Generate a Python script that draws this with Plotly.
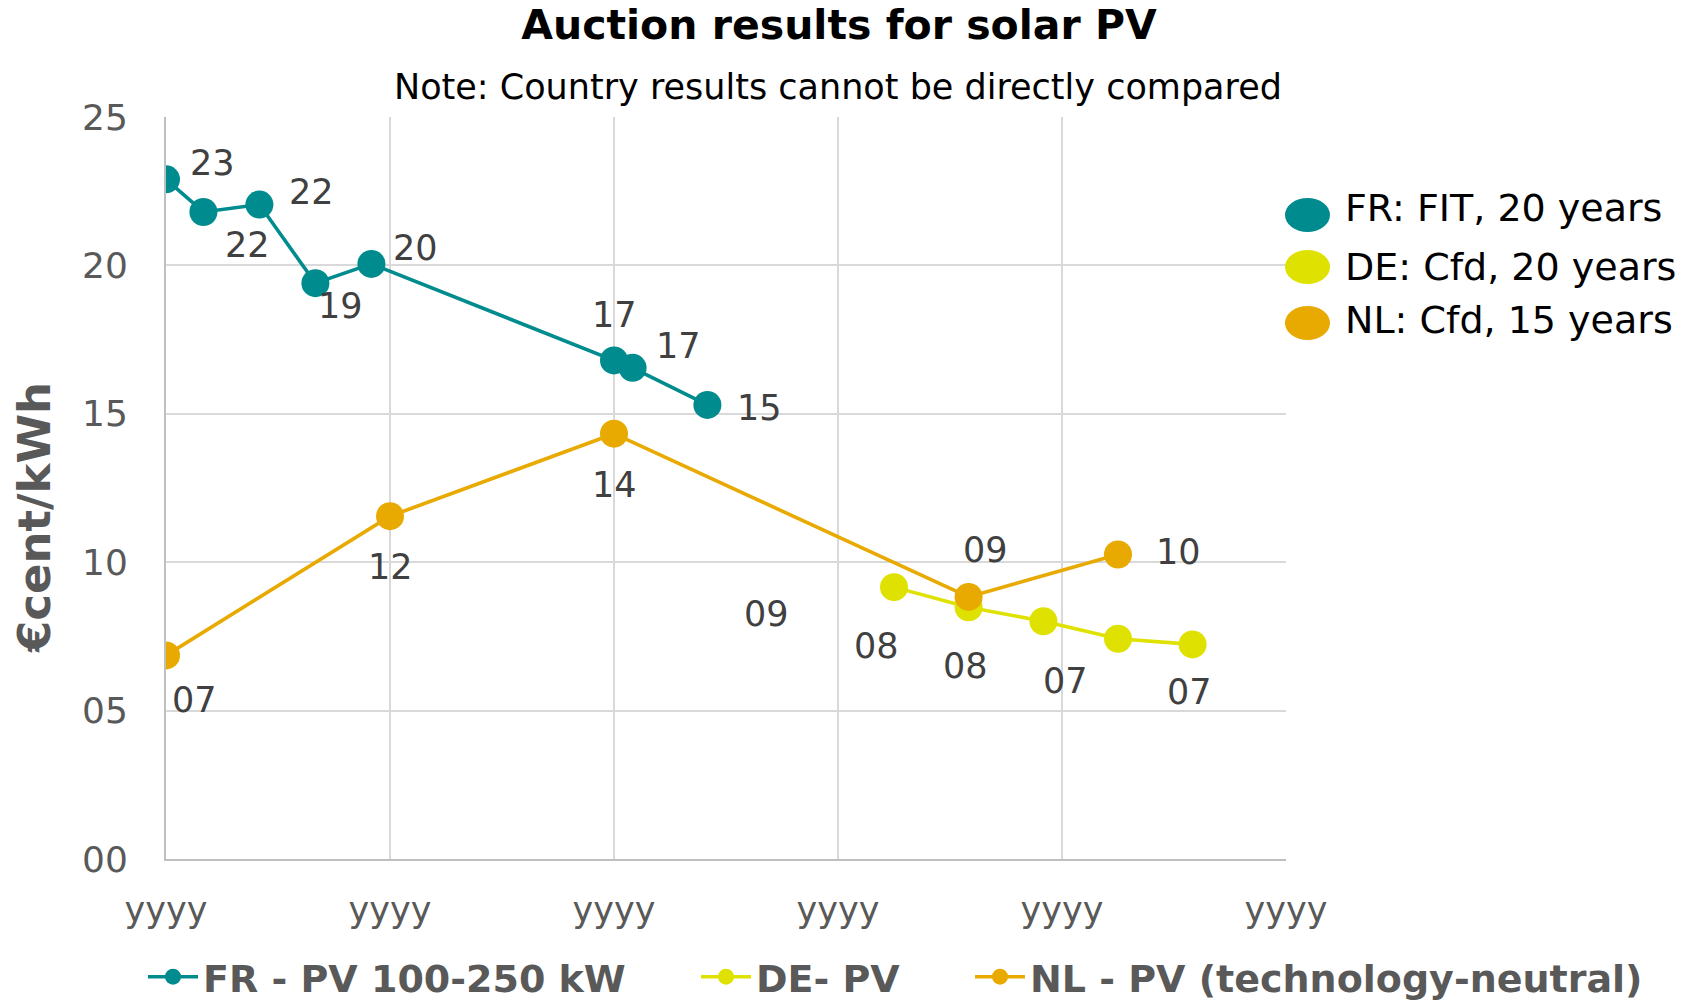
import math
import plotly.graph_objects as go

# ---------------- data ----------------
x_ticks = [0, 1, 2, 3, 4, 5]
x_tick_labels = ["yyyy"] * 6
y_ticks = [0, 5, 10, 15, 20, 25]

fr_name = "FR - PV 100-250 kW"
fr_x = [0.0, 0.167, 0.417, 0.667, 0.917, 2.0, 2.083, 2.417]
fr_y = [22.9, 21.8, 22.05, 19.4, 20.05, 16.8, 16.55, 15.3]

de_name = "DE- PV"
de_x = [3.25, 3.583, 3.917, 4.25, 4.583]
de_y = [9.16, 8.48, 8.01, 7.42, 7.23]

nl_name = "NL - PV (technology-neutral)"
nl_x = [0.0, 1.0, 2.0, 3.583, 4.25]
nl_y = [6.86, 11.55, 14.33, 8.83, 10.26]

side_legend = ["FR: FIT, 20 years", "DE: Cfd, 20 years", "NL: Cfd, 15 years"]

# ---------------- styles ----------------
C_FR = "#008B8F"
C_DE = "#DFE200"
C_NL = "#E8AA00"
GRID = "#D9D9D9"
AXIS = "#BFBFBF"
TXT = "#595959"
LBL = "#404040"
FONT = "DejaVu Sans"

# label offsets (px; dx right, dy down)
fr_off = [(46, -16), (44, 33), (52, -13), (25, 23), (44, -16), (0, -45), (46, -22), (52, 3)]
de_off = [(-128, 27), (-92, 39), (-78, 45), (-53, 42), (-3, 48)]
nl_off = [(28, 45), (0, 51), (0, 51), (17, -47), (60, -2)]

OFF = 8  # page body margin
W, H = 1686, 992
ML, MR, MT, MB = 158, 408, 109, 141
PW, PH = W - ML - MR, H - MT - MB

# legend layout (entry widths in px)
LEG_ITEMWIDTH = 50
LEG_TEXTGAP = LEG_ITEMWIDTH + 10
leg_widths = [488, 209, 620]
LEG_LEFT = 143


def px_x(sx):
    return (sx - OFF - ML) / PW


def px_y(sy):
    return (H - MB - (sy - OFF)) / PH


def lbl(v):
    return f"{int(math.floor(v + 0.5)):02d}"


fig = go.Figure()
series = [
    (fr_name, fr_x, fr_y, C_FR, fr_off),
    (de_name, de_x, de_y, C_DE, de_off),
    (nl_name, nl_x, nl_y, C_NL, nl_off),
]
for (name, xs, ys, col, offs), lw in zip(series, leg_widths):
    fig.add_trace(go.Scatter(
        x=xs, y=ys, name=name, mode="lines+markers",
        line=dict(color=col, width=3.6),
        marker=dict(color=col, size=28),
        hoverinfo="x+y+name", legendwidth=lw,
    ))

annotations = []
for name, xs, ys, col, offs in series:
    for xv, yv, (dx, dy) in zip(xs, ys, offs):
        annotations.append(dict(
            x=xv, y=yv, xref="x", yref="y", text=lbl(yv), showarrow=False,
            xshift=dx, yshift=-dy, font=dict(family=FONT, size=35, color=LBL),
        ))

# subtitle
annotations.append(dict(
    x=px_x(838), y=px_y(87), xref="paper", yref="paper",
    text="Note: Country results cannot be directly compared", showarrow=False,
    xanchor="center", yanchor="middle",
    font=dict(family=FONT, size=35, color="#000000"),
))
# y axis title
annotations.append(dict(
    x=px_x(35), y=px_y(518), xref="paper", yref="paper",
    text="<b>€cent/kWh</b>", showarrow=False, textangle=-90,
    xanchor="center", yanchor="middle",
    font=dict(family=FONT, size=45, color=TXT),
))

# side legend
shapes = []
side_cols = [C_FR, C_DE, C_NL]
circle_y = [215, 267, 323]
text_y = [208, 267, 320]
for txt, col, cy, ty in zip(side_legend, side_cols, circle_y, text_y):
    shapes.append(dict(
        type="circle", xref="paper", yref="paper",
        x0=px_x(1285), x1=px_x(1330), y0=px_y(cy + 17), y1=px_y(cy - 17),
        fillcolor=col, line=dict(width=0),
    ))
    annotations.append(dict(
        x=px_x(1343), y=px_y(ty), xref="paper", yref="paper",
        text=txt, showarrow=False, xanchor="left", yanchor="middle",
        font=dict(family=FONT, size=38, color="#000000"),
    ))

leg_right = LEG_LEFT + sum(LEG_TEXTGAP + w + 5 for w in leg_widths)

fig.update_layout(
    width=W, height=H,
    margin=dict(l=ML, r=MR, t=MT, b=MB, autoexpand=False),
    paper_bgcolor="white", plot_bgcolor="white",
    title=dict(
        text="<b>Auction results for solar PV</b>",
        x=(839 - OFF) / W, xanchor="center", y=1 - (24.5 - OFF) / H, yanchor="middle",
        yref="container", xref="container",
        font=dict(family=FONT, size=41, color="#000000"),
    ),
    xaxis=dict(
        range=[0, 5], tickvals=x_ticks, ticktext=x_tick_labels,
        showgrid=True, gridcolor=GRID, gridwidth=2,
        showline=True, linecolor=AXIS, linewidth=2,
        zeroline=False, ticks="", ticklabelstandoff=19,
        tickfont=dict(family=FONT, size=35, color=TXT),
    ),
    yaxis=dict(
        range=[0, 25], tickvals=y_ticks, tickformat="02d",
        showgrid=True, gridcolor=GRID, gridwidth=2,
        showline=True, linecolor=AXIS, linewidth=2,
        zeroline=False, ticks="", ticklabelstandoff=29,
        tickfont=dict(family=FONT, size=36, color=TXT),
    ),
    legend=dict(
        orientation="h", x=px_x(leg_right), xanchor="right", y=px_y(977), yanchor="middle",
        font=dict(family=FONT, size=38, color=TXT, weight="bold"),
        itemwidth=LEG_ITEMWIDTH, bgcolor="rgba(0,0,0,0)", tracegroupgap=0,
    ),
    annotations=annotations,
    shapes=shapes,
)

fig.write_html("out.html")
